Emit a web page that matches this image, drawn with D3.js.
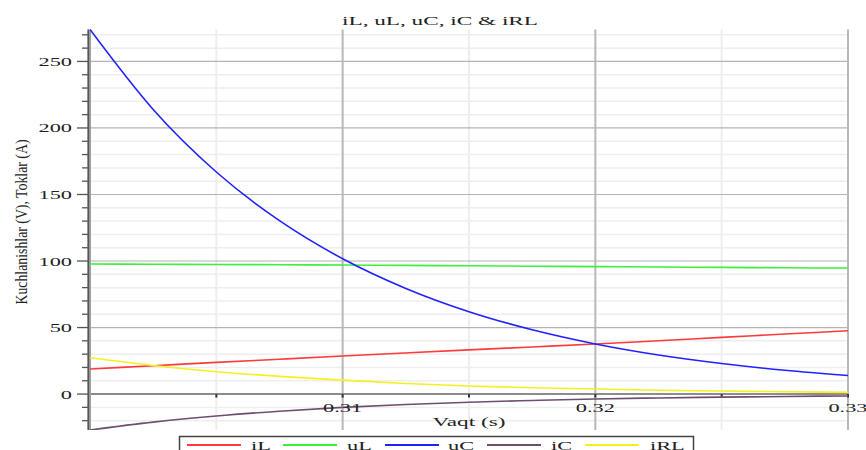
<!DOCTYPE html>
<html><head><meta charset="utf-8">
<script src="https://cdn.jsdelivr.net/npm/d3@7"></script>
<style>body{margin:0;background:#fff}svg{display:block}text{font-family:"Liberation Serif","DejaVu Serif",serif;fill:#222}</style>
</head><body><svg id="c" width="866" height="450"></svg>
<script>
const time = [0.300,0.3025,0.305,0.3075,0.310,0.3125,0.315,0.3175,0.320,0.3225,0.325,0.3275,0.330];
const iL  = [18.8,21.3,23.8,26.2,28.6,30.9,33.2,35.4,37.6,40.1,42.6,45.1,47.6];
const uL  = [97.8,97.6,97.4,97.2,97.0,96.7,96.4,96.1,95.8,95.5,95.2,94.9,94.7];
const uC  = [274,213.9,166.9,130.3,101.7,79.4,61.9,48.3,37.7,29.4,23.0,17.9,14.0];
const iC  = [-27,-21.1,-16.5,-12.9,-10.0,-7.8,-6.1,-4.8,-3.7,-2.9,-2.3,-1.8,-1.4];
const iRL = [27.3,21.5,16.8,13.3,10.5,8.0,6.1,4.8,3.8,2.9,2.3,1.7,1.3];
const seriesNames = ["iL","uL","uC","iC","iRL"];
const seriesColors = ["#ff3a3a","#3cf03c","#2222ff","#6e4e6f","#f6f020"];
const yTickLabels = [0,50,100,150,200,250];
const xTickLabels = [0.31,0.32,0.33];
const title = "iL, uL, uC, iC & iRL";
const xTitle = "Vaqt (s)";
const yTitle = "Kuchlanishlar (V), Toklar (A)";

const svg = d3.select("#c");
const L=90,R=848,T=29.5,B=430, SX=1.72;
const x = d3.scaleLinear().domain([0.30,0.33]).range([L,R]);
const y = d3.scaleLinear().domain([-27,274]).range([B,T]);
const data = [iL,uL,uC,iC,iRL];

function stext(g,str,px,py,anchor,size){
  const t = g.append("text").attr("transform",`translate(${px},${py}) scale(${SX},1)`)
    .attr("text-anchor",anchor).attr("font-size",size).text(str);
  return t;
}

// grid
const grid = svg.append("g");
const minorY = d3.range(-20,271,10).filter(v=>v%50!==0);
grid.selectAll(".my").data(minorY).join("line")
  .attr("x1",L).attr("x2",R).attr("y1",d=>y(d)).attr("y2",d=>y(d))
  .attr("stroke","#eeeeee").attr("stroke-width",1.5);
const minorX = [0.305,0.315,0.325];
grid.selectAll(".mx").data(minorX).join("line")
  .attr("x1",d=>x(d)).attr("x2",d=>x(d)).attr("y1",T).attr("y2",B)
  .attr("stroke","#eeeeee").attr("stroke-width",2);
grid.selectAll(".Y").data(yTickLabels.filter(v=>v!==0)).join("line")
  .attr("x1",L).attr("x2",R).attr("y1",d=>y(d)).attr("y2",d=>y(d))
  .attr("stroke","#b4b4b4").attr("stroke-width",1.2);
grid.selectAll(".X").data(xTickLabels).join("line")
  .attr("x1",d=>x(d)).attr("x2",d=>x(d)).attr("y1",T).attr("y2",B)
  .attr("stroke","#b8b8b8").attr("stroke-width",2);

// x axis at y=0
svg.append("line").attr("x1",L).attr("x2",R).attr("y1",y(0)).attr("y2",y(0))
  .attr("stroke","#8c8c8c").attr("stroke-width",2);
svg.selectAll(".xt").data([0.30,0.305,0.31,0.315,0.32,0.325,0.33]).join("line")
  .attr("x1",d=>x(d)).attr("x2",d=>x(d)).attr("y1",y(0)).attr("y2",y(0)+3.5)
  .attr("stroke","#333").attr("stroke-width",2);

// y axis
svg.append("line").attr("x1",L-1).attr("x2",L-1).attr("y1",T).attr("y2",B)
  .attr("stroke","#a0a0a0").attr("stroke-width",4);
svg.append("line").attr("x1",L-1.5).attr("x2",L-1.5).attr("y1",T).attr("y2",B)
  .attr("stroke","#555").attr("stroke-width",1.2);
svg.selectAll(".ytm").data(yTickLabels).join("line")
  .attr("x1",77).attr("x2",L-2).attr("y1",d=>y(d)).attr("y2",d=>y(d))
  .attr("stroke","#555").attr("stroke-width",1.3);
svg.selectAll(".ytn").data(minorY).join("line")
  .attr("x1",82).attr("x2",L-2).attr("y1",d=>y(d)).attr("y2",d=>y(d))
  .attr("stroke","#555").attr("stroke-width",1.3);

// curves
svg.append("clipPath").attr("id","clip").append("rect")
  .attr("x",L).attr("y",T-1).attr("width",R-L+1).attr("height",B-T+1);
const line = d3.line().x((d,i)=>x(time[i])).y(d=>y(d)).curve(d3.curveMonotoneX);
const curves = svg.append("g").attr("clip-path","url(#clip)");
data.forEach((s,k)=>{
  curves.append("path").attr("d",line(s)).attr("fill","none")
    .attr("stroke",seriesColors[k]).attr("stroke-width",1.6);
});

// labels
const lab = svg.append("g");
yTickLabels.forEach(v=>stext(lab,String(v),72,y(v)+4.5,"end",13));
xTickLabels.forEach(v=>stext(lab,d3.format(".2f")(v),x(v),412,"middle",13));
stext(lab,title,440,25,"middle",13.5);
stext(lab,xTitle,469,426,"middle",13.5);
svg.append("text").attr("transform",`translate(27,222) rotate(-90)`)
  .attr("text-anchor","middle").attr("font-size",17)
  .attr("textLength",165).attr("lengthAdjust","spacingAndGlyphs").text(yTitle);

// legend
const lg = svg.append("g");
lg.append("rect").attr("x",179.5).attr("y",436.5).attr("width",514).attr("height",30)
  .attr("fill","#fff").attr("stroke","#444").attr("stroke-width",1.5);
const legX = [187,283,385,487,585];
const legTX = [251,347,448,551,650];
seriesNames.forEach((n,k)=>{
  lg.append("line").attr("x1",legX[k]).attr("x2",legX[k]+54).attr("y1",445).attr("y2",445)
    .attr("stroke",seriesColors[k]).attr("stroke-width",1.8);
  stext(lg,n,legTX[k],450,"start",13);
});
</script></body></html>
